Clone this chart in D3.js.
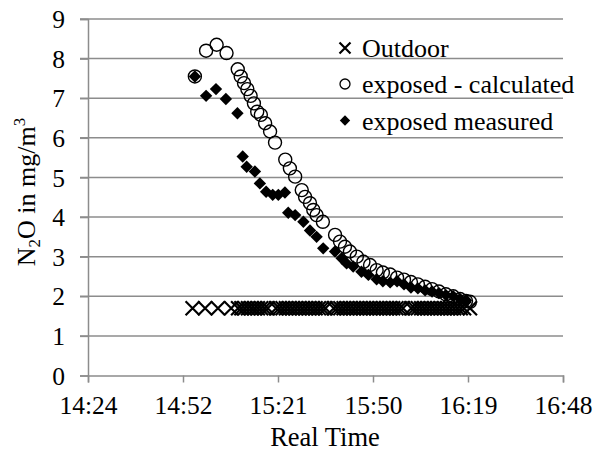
<!DOCTYPE html>
<html><head><meta charset="utf-8">
<script src="https://cdn.jsdelivr.net/npm/d3@7"></script>
<style>html,body{margin:0;padding:0;background:#fff;}svg{display:block;}
svg text{font-family:"Liberation Serif","Times New Roman","DejaVu Serif",serif !important;}</style>
</head><body>
<svg id="c" width="596" height="452"></svg>
<script>
// ---- data (time in minutes since midnight) ----
const xTickDays = [0.60, 0.62, 0.64, 0.66, 0.68, 0.70];
const xTickLabels = ["14:24", "14:52", "15:21", "15:50", "16:19", "16:48"];
const yTicks = [0, 1, 2, 3, 4, 5, 6, 7, 8, 9];

const outdoorTimes = [895.7, 899.5, 903.4, 907.4, 909.5, 910.5, 911.5, 912.5, 913.5, 914.5, 915.5, 916.5, 917.5, 918.5,
  921.0, 922.0, 923.0, 924.0, 925.0, 926.0, 927.0, 928.0, 929.0, 930.0, 931.0, 932.0, 933.0, 934.0, 935.0, 936.0,
  938.5, 939.5, 940.5, 941.5, 942.5, 943.5, 944.5, 945.5, 946.5, 947.5, 948.5, 949.5, 950.5, 951.5, 952.5, 953.5,
  954.5, 955.5, 956.5, 957.5, 958.5, 959.5,
  962.0, 963.0, 964.0, 965.0, 966.0, 967.0, 968.0, 969.0, 970.0, 971.0, 972.0, 973.0, 974.0, 975.0, 976.0, 977.0,
  978.0, 979.8];
const outdoorValues = [1.7, 1.7, 1.7, 1.7, 1.7, 1.7, 1.7, 1.7, 1.7, 1.7, 1.7, 1.7, 1.7, 1.7,
  1.7, 1.7, 1.7, 1.7, 1.7, 1.7, 1.7, 1.7, 1.7, 1.7, 1.7, 1.7, 1.7, 1.7, 1.7, 1.7,
  1.7, 1.7, 1.7, 1.7, 1.7, 1.7, 1.7, 1.7, 1.7, 1.7, 1.7, 1.7, 1.7, 1.7, 1.7, 1.7,
  1.7, 1.7, 1.7, 1.7, 1.7, 1.7,
  1.7, 1.7, 1.7, 1.7, 1.7, 1.7, 1.7, 1.7, 1.7, 1.7, 1.7, 1.7, 1.7, 1.7, 1.7, 1.7,
  1.7, 1.7];

const calcTimes = [896.4, 899.8, 903.0, 906.0, 909.4, 910.3, 911.3, 912.3, 913.3, 914.3, 915.3, 916.4, 917.7,
  919.2, 920.7, 923.8, 925.2, 926.8, 928.8, 929.8, 931.3, 932.3, 933.3, 935.2, 938.9, 940.4, 941.9, 943.4,
  945.5, 947.5, 949.5, 951.5, 953.4, 955.6, 957.7, 959.8, 961.9, 964.0, 966.2, 968.3, 970.4, 972.5, 974.7,
  976.8, 978.6, 979.8];
const calcValues = [7.55, 8.2, 8.35, 8.14, 7.73, 7.55, 7.38, 7.23, 7.06, 6.87, 6.66, 6.58, 6.37,
  6.16, 5.88, 5.45, 5.23, 5.02, 4.68, 4.51, 4.35, 4.18, 4.05, 3.88, 3.55, 3.38, 3.25, 3.13,
  3.0, 2.87, 2.79, 2.66, 2.6, 2.55, 2.47, 2.42, 2.36, 2.3, 2.24, 2.18, 2.12, 2.05, 2.0,
  1.93, 1.88, 1.86];

const measTimes = [896.4, 899.8, 902.8, 905.8, 909.3, 910.9, 912.1, 914.6, 916.1, 918.0, 920.0, 921.7, 923.7,
  924.7, 926.8, 929.3, 931.3, 933.3, 935.3, 938.9, 940.9, 942.4, 944.4, 946.9, 949.0, 951.5, 953.4, 955.6,
  957.7, 959.8, 961.9, 964.0, 966.2, 968.3, 970.4, 972.5, 974.7, 976.8, 978.6];
const measValues = [7.55, 7.06, 7.23, 6.98, 6.62, 5.53, 5.27, 5.15, 4.85, 4.64, 4.56, 4.56, 4.62,
  4.11, 4.05, 3.88, 3.66, 3.5, 3.21, 3.13, 2.96, 2.83, 2.75, 2.62, 2.54, 2.43, 2.38, 2.35,
  2.38, 2.3, 2.22, 2.2, 2.15, 2.12, 2.08, 2.03, 2.0, 1.93, 1.9];

const legendLabels = ["Outdoor", "exposed - calculated", "exposed measured"];

// ---- drawing ----
const svg = d3.select("#c");
const x = d3.scaleLinear().domain([864, 1008]).range([88, 563]);
const y = d3.scaleLinear().domain([0, 9]).range([375.5, 19]);
const gridColor = "#8c8c8c";

// gridlines
svg.append("g").selectAll("line").data(yTicks.filter(d => d > 0)).join("line")
  .attr("x1", 80).attr("x2", 563)
  .attr("y1", d => y(d)).attr("y2", d => y(d))
  .attr("stroke", gridColor).attr("stroke-width", 1.5);

// y axis
const yAxis = svg.append("g").attr("transform", "translate(88,0)")
  .call(d3.axisLeft(y).tickValues(yTicks).tickSize(8).tickPadding(15).tickFormat(d3.format("d")));
yAxis.attr("font-family", null).attr("font-size", null);
yAxis.select(".domain").attr("stroke", gridColor).attr("stroke-width", 1.5);
yAxis.selectAll(".tick line").attr("stroke", gridColor).attr("stroke-width", 1.5);
yAxis.selectAll("text").style("font-size", "25.5px").attr("fill", "#000").attr("dy", "0.34em");

// x axis
const xAxis = svg.append("g").attr("transform", "translate(0,375.5)")
  .call(d3.axisBottom(x).tickValues(xTickDays.map(d => d * 1440)).tickSize(7).tickPadding(13)
    .tickFormat((d, i) => xTickLabels[i]));
xAxis.attr("font-family", null).attr("font-size", null);
xAxis.select(".domain").attr("stroke", gridColor).attr("stroke-width", 1.5);
xAxis.selectAll(".tick line").attr("stroke", gridColor).attr("stroke-width", 1.5);
xAxis.selectAll("text").style("font-size", "25.5px").attr("fill", "#000");

// axis titles
svg.append("text").attr("x", 325).attr("y", 446).attr("text-anchor", "middle")
  .style("font-size", "26.5px").text("Real Time");

const yt = svg.append("text").attr("transform", "translate(35,192) rotate(-90)")
  .attr("text-anchor", "middle").style("font-size", "26px");
yt.append("tspan").text("N");
yt.append("tspan").style("font-size", "17px").attr("dy", 5).text("2");
yt.append("tspan").attr("dy", -5).text("O in mg/m");
yt.append("tspan").style("font-size", "17px").attr("dy", -10).text("3");

// marker helpers
function xMark(g, cx, cy, h, sw) {
  g.append("path").attr("d", `M${cx - h},${cy - h}L${cx + h},${cy + h}M${cx - h},${cy + h}L${cx + h},${cy - h}`)
    .attr("stroke", "#000").attr("stroke-width", sw).attr("fill", "none");
}
const diamond = (cx, cy, h) => `M${cx},${cy - h}L${cx + h},${cy}L${cx},${cy + h}L${cx - h},${cy}Z`;

// outdoor
const gOut = svg.append("g");
outdoorTimes.forEach((t, i) => xMark(gOut, x(t), y(outdoorValues[i]), 7, 2.2));

// calculated
svg.append("g").selectAll("circle").data(calcTimes).join("circle")
  .attr("cx", d => x(d)).attr("cy", (d, i) => y(calcValues[i])).attr("r", 6.5)
  .attr("fill", "none").attr("stroke", "#000").attr("stroke-width", 1.4);

// measured
svg.append("g").selectAll("path").data(measTimes).join("path")
  .attr("d", (d, i) => diamond(x(d), y(measValues[i]), 6.2)).attr("fill", "#000");

// legend
const lg = svg.append("g").style("font-size", "26px");
xMark(lg, 345, 48, 5.5, 2.2);
lg.append("circle").attr("cx", 345).attr("cy", 84).attr("r", 5).attr("fill", "none").attr("stroke", "#000").attr("stroke-width", 1.3);
lg.append("path").attr("d", diamond(345, 120.5, 5.2)).attr("fill", "#000");
const ly = [57, 93, 130];
legendLabels.forEach((l, i) => lg.append("text").attr("x", 362).attr("y", ly[i]).style("font-size", "26px").text(l));
</script>
</body></html>
